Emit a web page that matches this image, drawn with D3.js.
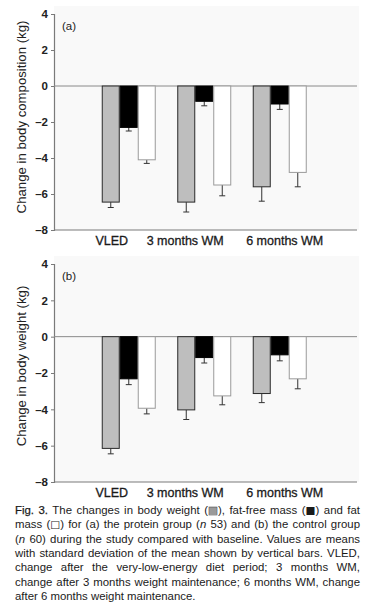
<!DOCTYPE html>
<html>
<head>
<meta charset="utf-8">
<script src="https://cdn.jsdelivr.net/npm/d3@7"></script>
<style>
  body { margin: 0; background: #fff; }
  svg { display: block; font-family: "Liberation Sans", Arial, sans-serif; }
</style>
</head>
<body>
<div id="chart"></div>
<script>
// categories and series
const groups = ["VLED", "3 months WM", "6 months WM"];
const series = ["weight", "ffm", "fat"];
const yTicks = [4, 2, 0, -2, -4, -6, -8];

// (a) protein group: means and SD
const aWeight = [-6.45, -6.45, -5.6];
const aWeightSd = [0.3, 0.55, 0.8];
const aFfm = [-2.3, -0.85, -1.0];
const aFfmSd = [0.2, 0.25, 0.3];
const aFat = [-4.1, -5.5, -4.8];
const aFatSd = [0.2, 0.6, 0.8];

// (b) control group
const bWeight = [-6.15, -4.03, -3.13];
const bWeightSd = [0.3, 0.53, 0.5];
const bFfm = [-2.32, -1.15, -1.0];
const bFfmSd = [0.32, 0.3, 0.33];
const bFat = [-3.94, -3.26, -2.32];
const bFatSd = [0.31, 0.49, 0.55];

const width = 380,
  height = 611,
  axisX = 54,
  plotRight = 357;

const fills = { weight: "#bebebe", ffm: "#000", fat: "#fff" };
const strokes = { weight: "#2a2a2a", ffm: "#000", fat: "#9a9a9a" };
const labelNudge = [-17, -19, 5];

const svg = d3
  .select("#chart")
  .append("svg")
  .attr("width", width)
  .attr("height", height);

const x0 = d3.scaleBand().domain(groups).range([91, 317.5]).padding(0);
const x1 = d3.scaleBand().domain(series).range([-27, 27]).padding(0);

// centre of one bar
const cx = (d) => x0(d.group) + x0.bandwidth() / 2 + x1(d.key) + x1.bandwidth() / 2;

function toRows(w, wsd, f, fsd, t, tsd) {
  const rows = [];
  groups.forEach((g, i) => {
    rows.push({ group: g, key: "weight", v: w[i], sd: wsd[i] });
    rows.push({ group: g, key: "ffm", v: f[i], sd: fsd[i] });
    rows.push({ group: g, key: "fat", v: t[i], sd: tsd[i] });
  });
  return rows;
}

function drawPanel(rows, top, bottom, tag, title, titleY) {
  const y = d3.scaleLinear().domain([-8, 4]).range([bottom, top]);
  const g = svg.append("g");

  g.append("rect")
    .attr("x", axisX)
    .attr("y", top - 8)
    .attr("width", plotRight - axisX + 2)
    .attr("height", bottom - top + 8)
    .attr("fill", "#f9f9f9");

  const yAxis = d3
    .axisLeft(y)
    .tickValues(yTicks)
    .tickSize(3)
    .tickPadding(3)
    .tickFormat((d) => (d < 0 ? "\u2013" + Math.abs(d) : d));

  const ax = g
    .append("g")
    .attr("transform", "translate(" + axisX + ",0)")
    .call(yAxis);
  ax.select(".domain").attr("stroke", "#7a7a7a").attr("stroke-width", 1.2);
  ax.selectAll(".tick line").attr("stroke", "#7a7a7a");
  ax.selectAll(".tick text")
    .attr("font-size", 11.5)
    .attr("font-weight", "bold")
    .attr("fill", "#222")
    .attr("font-family", "Liberation Sans, Arial, sans-serif");

  // bottom axis line and zero line
  g.append("line")
    .attr("x1", axisX)
    .attr("x2", plotRight)
    .attr("y1", y(-8))
    .attr("y2", y(-8))
    .attr("stroke", "#7a7a7a")
    .attr("stroke-width", 1.2);
  g.append("line")
    .attr("x1", axisX)
    .attr("x2", plotRight)
    .attr("y1", y(0))
    .attr("y2", y(0))
    .attr("stroke", "#8a8a8a")
    .attr("stroke-width", 1);

  // error bars (downward only)
  const err = g
    .selectAll(".err")
    .data(rows)
    .enter()
    .append("g")
    .attr("class", "err");
  err
    .append("line")
    .attr("x1", cx)
    .attr("x2", cx)
    .attr("y1", (d) => y(d.v))
    .attr("y2", (d) => y(d.v - d.sd))
    .attr("stroke", "#333")
    .attr("stroke-width", 1);
  err
    .append("line")
    .attr("x1", (d) => cx(d) - 3)
    .attr("x2", (d) => cx(d) + 3)
    .attr("y1", (d) => y(d.v - d.sd))
    .attr("y2", (d) => y(d.v - d.sd))
    .attr("stroke", "#333")
    .attr("stroke-width", 1);

  g.selectAll(".bar")
    .data(rows)
    .enter()
    .append("rect")
    .attr("class", "bar")
    .attr("x", (d) => x0(d.group) + x0.bandwidth() / 2 + x1(d.key) + 0.5)
    .attr("y", y(0))
    .attr("width", x1.bandwidth() - 1)
    .attr("height", (d) => y(d.v) - y(0))
    .attr("fill", (d) => fills[d.key])
    .attr("stroke", (d) => strokes[d.key])
    .attr("stroke-width", 1);

  g.selectAll(".cat")
    .data(groups)
    .enter()
    .append("text")
    .attr("class", "cat")
    .attr("x", (d, i) => x0(d) + x0.bandwidth() / 2 + labelNudge[i])
    .attr("y", y(-8) + 15)
    .attr("text-anchor", "middle")
    .attr("font-size", 12.5)
    .attr("fill", "#1a1a1a")
    .attr("stroke", "#1a1a1a")
    .attr("stroke-width", 0.3)
    .text((d) => d);

  g.append("text")
    .attr("x", 62)
    .attr("y", top + 16)
    .attr("font-size", 11.5)
    .attr("fill", "#222")
    .text(tag);

  g.append("text")
    .attr("transform", "translate(26," + titleY + ") rotate(-90)")
    .attr("text-anchor", "middle")
    .attr("font-size", 13.2)
    .attr("fill", "#222")
    .text(title);
}

drawPanel(
  toRows(aWeight, aWeightSd, aFfm, aFfmSd, aFat, aFatSd),
  14, 230, "(a)", "Change in body composition (kg)", 117
);
drawPanel(
  toRows(bWeight, bWeightSd, bFfm, bFfmSd, bFat, bFatSd),
  264, 482, "(b)", "Change in body weight (kg)", 366
);

// caption, justified line by line
const captionLines = [
  [["Fig. 3.", "b"], [" The changes in body weight (", ""], ["\u25A0", "gray"], ["), fat-free mass (", ""], ["\u25A0", "sym"], [") and fat", ""]],
  [["mass (", ""], ["\u25A1", "sym"], [") for (a) the protein group (", ""], ["n", "i"], [" 53) and (b) the control group", ""]],
  [["(", ""], ["n", "i"], [" 60) during the study compared with baseline. Values are means", ""]],
  [["with standard deviation of the mean shown by vertical bars. VLED,", ""]],
  [["change after the very-low-energy diet period; 3 months WM,", ""]],
  [["change after 3 months weight maintenance; 6 months WM, change", ""]],
  [["after 6 months weight maintenance.", ""]]
];
const capLeft = 15,
  capRight = 360,
  capTop = 514,
  capStep = 14.3;

captionLines.forEach((parts, i) => {
  const t = svg
    .append("text")
    .attr("x", capLeft)
    .attr("y", capTop + i * capStep)
    .attr("font-size", 11.4)
    .attr("fill", "#1a1a1a")
    .attr("xml:space", "preserve");
  parts.forEach((p) => {
    const s = t.append("tspan").text(p[0]);
    if (p[1] === "i") s.attr("font-style", "italic");
    if (p[1] === "b") s.attr("stroke", "#1a1a1a").attr("stroke-width", 0.25);
    if (p[1] === "gray" || p[1] === "sym") {
      s.attr("font-family", "DejaVu Sans").attr("font-size", 10.5);
    }
    if (p[1] === "gray") s.attr("fill", "#9a9a9a").attr("stroke", "#333").attr("stroke-width", 0.4);
  });
  if (i < captionLines.length - 1) {
    const full = parts.map((p) => p[0]).join("");
    const spaces = (full.match(/ /g) || []).length;
    const w = t.node().getComputedTextLength();
    const extra = (capRight - capLeft - w) / spaces;
    t.attr("word-spacing", extra);
  }
});
</script>
</body>
</html>
